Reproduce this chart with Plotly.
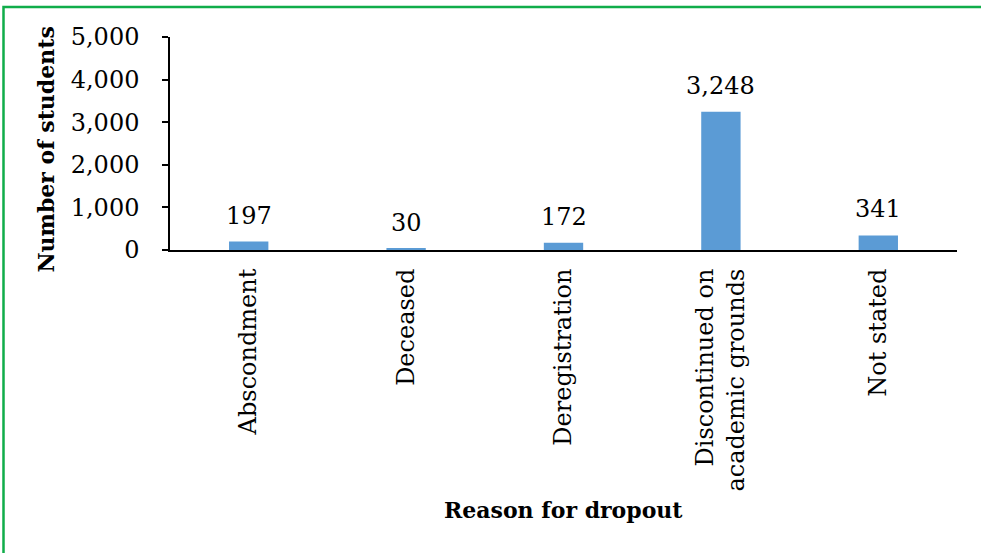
import plotly.graph_objects as go

categories = ["Abscondment", "Deceased", "Deregistration",
              "Discontinued on<br>academic grounds", "Not stated"]
students = [197, 30, 172, 3248, 341]
value_labels = ["197", "30", "172", "3,248", "341"]
y_ticks = [0, 1000, 2000, 3000, 4000, 5000]

W, H = 981, 553
L, R, T, B = 170, 24, 37, 303
pw, ph = W - L - R, H - T - B
FONT = "DejaVu Serif"

fig = go.Figure(go.Bar(x=categories, y=students, marker_color="#5B9BD5",
                       marker_line_width=0, width=0.25, hoverinfo="skip"))

for c, v, lab in zip(categories, students, value_labels):
    fig.add_annotation(x=c, y=v, text=lab, showarrow=False, yanchor="bottom",
                       yshift=10, font=dict(family=FONT, size=24, color="black"))

fig.add_annotation(xref="paper", yref="paper", x=0.5, y=0, yanchor="middle",
                   yshift=-(510 - 250), text="<b>Reason for dropout</b>", showarrow=False,
                   font=dict(family=FONT, size=22, color="black"))
fig.add_annotation(xref="paper", yref="paper", x=0, y=0.5, xanchor="center",
                   xshift=-(170 - 45), yshift=-6, textangle=-90,
                   text="<b>Number of students</b>", showarrow=False,
                   font=dict(family=FONT, size=22, color="black"))

# green frame (only top and left edges visible in the reference)
fig.add_shape(type="rect", xref="paper", yref="paper",
              x0=(3.5 - L) / pw, x1=(W + 20 - L) / pw,
              y0=(T + ph - (H + 20)) / ph, y1=(T + ph - 7) / ph,
              line=dict(color="#10ad4a", width=2.5), fillcolor="rgba(0,0,0,0)", layer="above")

fig.update_layout(
    width=W, height=H, margin=dict(l=L, r=R, t=T, b=B, autoexpand=False),
    paper_bgcolor="white", plot_bgcolor="white", showlegend=False,
    font=dict(family=FONT, size=24, color="black"),
    xaxis=dict(tickangle=-90, showline=True, linecolor="black", linewidth=2,
               ticks="", showgrid=False, ticklabelstandoff=7, automargin=False,
               tickfont=dict(family=FONT, size=24, color="black")),
    yaxis=dict(range=[0, 5000], tickvals=y_ticks, tickformat=",", showline=True,
               linecolor="black", linewidth=1.5, ticks="outside", ticklen=6,
               tickcolor="black", tickwidth=1.5, showgrid=False, zeroline=False,
               ticklabelstandoff=18, automargin=False,
               tickfont=dict(family=FONT, size=24, color="black")),
)

fig.write_html("out.html", config={"displayModeBar": False},
               post_script="document.body.style.margin='0';document.body.style.overflow='hidden';")
